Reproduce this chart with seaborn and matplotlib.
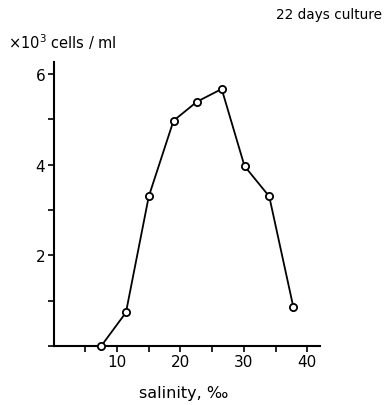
import matplotlib
matplotlib.use("Agg")
import matplotlib.pyplot as plt
import seaborn as sns
import pandas as pd

# salinity (per mille) and cell density (x10^3 cells/ml) after 22 days of culture
salinity = [7.5, 11.4, 15.0, 18.9, 22.6, 26.5, 30.1, 34.0, 37.8]
cells = [0.0, 0.74, 3.30, 4.97, 5.39, 5.67, 3.97, 3.30, 0.86]

x_ticks = [5, 10, 15, 20, 25, 30, 35, 40]
x_tick_labels = ["", "10", "", "20", "", "30", "", "40"]
y_ticks = [0, 1, 2, 3, 4, 5, 6]
y_tick_labels = ["", "", "2", "", "4", "", "6"]

df = pd.DataFrame({"salinity": salinity, "cells": cells})

sns.set_style("white")
plt.rcParams["font.family"] = ["DejaVu Sans"]
plt.rcParams["text.color"] = "black"
plt.rcParams["xtick.color"] = "black"
plt.rcParams["ytick.color"] = "black"
plt.rcParams["xtick.labelcolor"] = "black"
plt.rcParams["ytick.labelcolor"] = "black"

fig = plt.figure(figsize=(3.91, 4.06), dpi=100)
ax = fig.add_axes([0.1373, 0.1453, 0.681, 0.700])

sns.lineplot(data=df, x="salinity", y="cells", ax=ax, color="black",
             linewidth=1.3, marker="o", markersize=5.2,
             markerfacecolor="white", markeredgecolor="black",
             markeredgewidth=1.3, zorder=3, clip_on=False)

ax.set_xlim(0, 42)
ax.set_ylim(0, 6.27)
ax.set_xticks(x_ticks)
ax.set_xticklabels(x_tick_labels, fontsize=11, color="black")
ax.set_yticks(y_ticks)
ax.set_yticklabels(y_tick_labels, fontsize=11, color="black")
ax.tick_params(axis="both", direction="out", length=4, width=1.2,
               color="black", pad=2, left=True, bottom=True)

for side in ["top", "right"]:
    ax.spines[side].set_visible(False)
for side in ["left", "bottom"]:
    ax.spines[side].set_color("black")
    ax.spines[side].set_linewidth(1.5)

ax.set_xlabel("")
ax.set_ylabel("")

fig.text(0.705, 0.962, "22 days culture", fontsize=9.8, ha="left",
         va="center", color="black")
fig.text(0.02, 0.895, r"$\times$10$^3$ cells / ml", fontsize=10.5,
         ha="left", va="center", color="black")
fig.text(0.47, 0.032, "salinity, \u2030", fontsize=11.5, ha="center",
         va="center", color="black")

fig.savefig("out.png", dpi=100)
